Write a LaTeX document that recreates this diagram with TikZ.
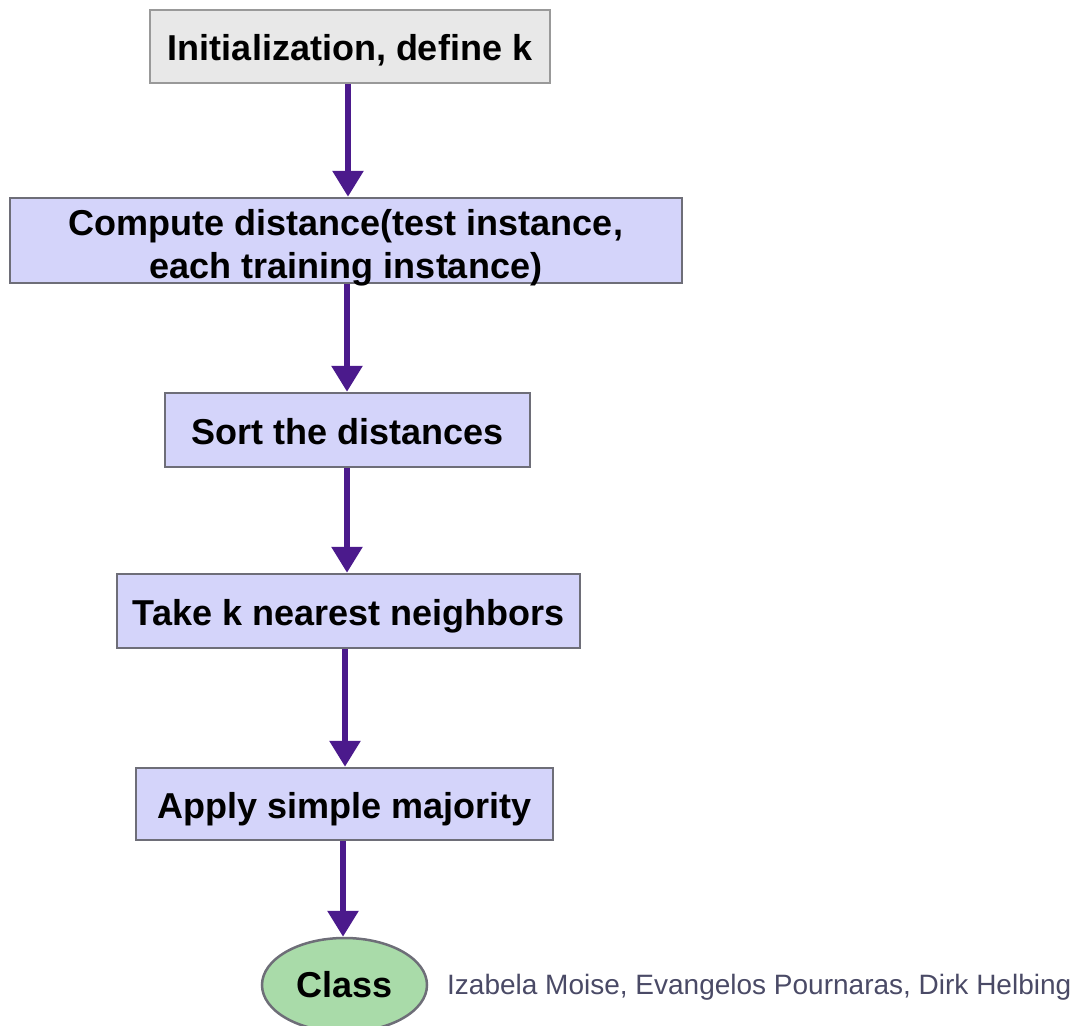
\documentclass[tikz,border=0pt]{standalone}
\usepackage{fontspec}
\setmainfont{Liberation Sans}
\usetikzlibrary{arrows.meta,shapes.geometric}
\definecolor{boxgray}{HTML}{E8E8E8}
\definecolor{boxblue}{HTML}{D4D4FA}
\definecolor{edgegray}{HTML}{6E6E78}
\definecolor{arrowpurple}{HTML}{4B1A8C}
\definecolor{classgreen}{HTML}{A9DBA9}
\definecolor{authorcol}{HTML}{4A4A66}
\begin{document}
\begin{tikzpicture}[x=1pt,y=-1pt,
  stepbox/.style={draw=edgegray,line width=2.5pt,fill=boxblue,inner sep=0pt,
     font=\fontsize{36}{43}\selectfont\bfseries,align=center},
  oneline/.style={text height=34pt,text depth=6pt},
  flow/.style={draw=arrowpurple,line width=6pt,
     -{Triangle[length=26pt,width=30pt]}}]
\useasboundingbox (0,0) rectangle (1072,1026);
\node[stepbox,oneline,fill=boxgray,draw=gray!80,minimum width=400pt,minimum height=73pt] (init) at (350,46.5) {Initialization, define k};
\node[stepbox,text height=30pt,text depth=41pt,minimum width=672pt,minimum height=85pt] (comp) at (346,240.5) {\begin{tabular}[t]{@{}c@{}}Compute distance(test instance,\\each training instance)\end{tabular}};
\node[stepbox,oneline,minimum width=365pt,minimum height=74pt] (sort) at (347.5,430) {Sort the distances};
\node[stepbox,oneline,minimum width=463pt,minimum height=74pt] (take) at (348.5,611) {Take k nearest neighbors};
\node[stepbox,oneline,minimum width=417pt,minimum height=72pt] (maj) at (344.5,804) {Apply simple majority};
\node[ellipse,draw=edgegray,line width=2.5pt,fill=classgreen,minimum width=165pt,minimum height=94pt,inner sep=0pt,
  font=\fontsize{36}{40}\selectfont\bfseries] (cls) at (344.5,985) {Class};
\node[anchor=west,inner sep=0pt,text=authorcol,font=\fontsize{28}{30}\selectfont] (auth) at (447,987) {Izabela Moise, Evangelos Pournaras, Dirk Helbing};
\draw[flow] (init.south -| 348,0) -- (comp.north -| 348,0);
\draw[flow] (comp.south -| 347,0) -- (sort.north -| 347,0);
\draw[flow] (sort.south -| 347,0) -- (take.north -| 347,0);
\draw[flow] (take.south -| 345,0) -- (maj.north -| 345,0);
\draw[flow] (maj.south -| 343,0) -- (cls.north -| 343,0);
\end{tikzpicture}
\end{document}
